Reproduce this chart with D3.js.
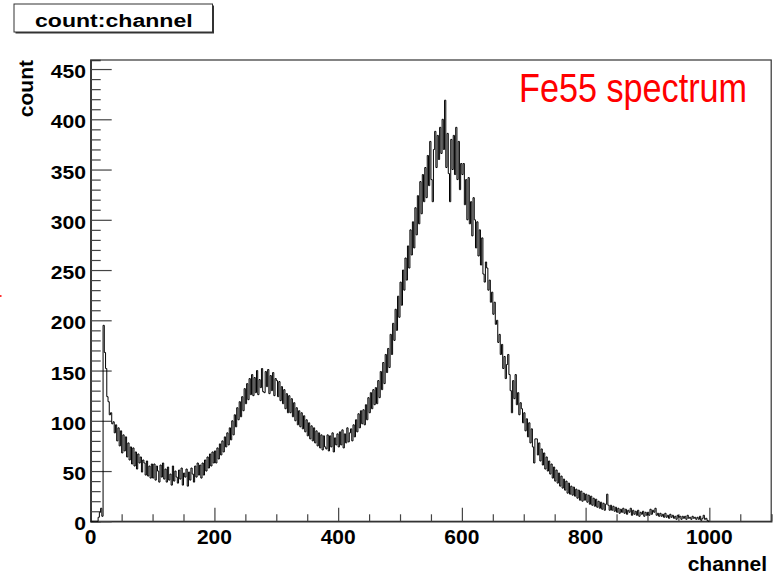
<!DOCTYPE html>
<html>
<head>
<meta charset="utf-8">
<script src="https://cdn.jsdelivr.net/npm/d3@7"></script>
<style>
  body { margin: 0; background: #fff; }
  text { font-family: "Liberation Sans", Arial, Helvetica, sans-serif; }
</style>
</head>
<body>
<div id="chart"></div>
<script>
// histogram: 2-channel bins starting at channel 0
const binWidth = 2;
const counts = [
  0,0,0,0,0,0,4,9,13,5,
  195,168,152,124,119,106,108,97,99,88,
  96,80,93,75,90,68,86,70,84,64,
  78,61,74,57,73,55,69,52,67,58,
  64,49,61,58,46,60,45,55,43,57,
  43,57,41,55,50,39,56,44,58,42,
  52,39,54,41,47,36,55,40,50,44,
  38,51,42,53,36,48,44,52,35,49,
  41,53,47,39,55,44,58,46,56,43,
  58,46,61,50,64,53,67,55,69,58,
  70,58,73,62,77,66,80,69,84,74,
  88,76,93,81,100,86,106,94,113,101,
  119,104,124,110,132,117,137,121,142,126,
  146,125,143,128,150,126,141,133,152,129,
  128,149,134,151,127,145,130,148,125,142,
  140,124,139,120,134,117,131,112,127,108,
  125,108,122,104,118,100,113,96,110,94,
  108,92,105,89,101,85,98,82,95,80,
  93,78,90,75,88,73,86,71,85,74,
  72,86,70,85,74,88,69,83,76,87,
  74,89,76,91,73,87,78,93,79,88,
  92,80,96,84,101,89,107,93,110,97,
  111,96,116,101,123,108,128,112,131,116,
  133,117,140,123,149,131,158,137,166,148,
  172,153,186,166,197,180,211,190,224,203,
  238,215,250,230,262,240,274,252,290,265,
  298,272,312,285,324,296,338,306,345,318,
  352,322,364,334,378,340,318,370,388,352,
  384,360,392,366,400,370,419,352,386,346,
  318,380,350,384,345,392,340,378,330,356,
  345,356,315,340,300,342,296,318,284,322,
  300,272,298,264,290,255,282,246,238,258,
  252,230,240,218,228,206,218,196,200,178,
  186,166,176,152,164,142,156,166,146,130,
  108,140,122,146,116,128,106,118,112,98,
  108,90,102,84,98,78,92,74,58,82,
  82,66,78,60,72,56,68,52,64,50,
  60,47,57,43,54,40,51,38,48,35,
  45,33,42,31,40,28,38,27,35,26,
  34,25,32,23,31,21,30,20,28,21,
  27,19,26,17,25,16,23,15,22,14,
  20,13,19,12,18,11,17,27,16,11,
  16,11,15,10,14,9,13,8,12,9,
  13,8,12,7,11,9,13,6,11,7,
  10,6,11,5,9,7,10,5,9,6,
  9,6,12,7,11,9,13,6,8,5,
  8,5,7,4,8,4,6,3,7,4,
  6,3,5,2,6,4,5,2,5,3,
  5,2,6,3,4,2,5,3,4,2,
  4,2,5,1,3,6,2,3,1,0
];
const xTicks = [0, 200, 400, 600, 800, 1000];
const yTicks = [0, 50, 100, 150, 200, 250, 300, 350, 400, 450];
const titleText = "count:channel";
const xTitle = "channel";
const yTitle = "count";
const legendText = "Fe55 spectrum";

const width = 778;
const height = 574;
const frame = {left: 90.7, right: 771.2, top: 60, bottom: 521.3};

const svg = d3.select("#chart")
    .append("svg")
    .attr("width", width)
    .attr("height", height);

const x = d3.scaleLinear()
    .domain([0, 1100])
    .range([frame.left, frame.right]);

const y = d3.scaleLinear()
    .domain([0, 459])
    .range([frame.bottom, frame.top]);

// frame
svg.append("rect")
    .attr("x", frame.left)
    .attr("y", frame.top)
    .attr("width", frame.right - frame.left)
    .attr("height", frame.bottom - frame.top)
    .attr("fill", "none")
    .attr("stroke", "#333")
    .attr("stroke-width", 1.2);

// X axis: ticks point up into the frame
const xAxis = svg.append("g")
    .attr("transform", `translate(0,${frame.bottom})`)
    .call(d3.axisTop(x).tickValues(d3.range(0, 1101, 50)).tickSize(7).tickFormat(""));
xAxis.selectAll(".tick line")
    .attr("y2", d => xTicks.includes(d) ? -13.5 : -7);
xAxis.select(".domain").attr("stroke", "#333").attr("stroke-width", 1.5);
xAxis.selectAll("line").attr("stroke", "#444").attr("stroke-width", 1.2);

svg.append("g").selectAll("text")
    .data(xTicks)
    .enter()
    .append("text")
    .attr("x", d => x(d))
    .attr("y", 543.5)
    .attr("text-anchor", "middle")
    .style("font-size", "21px")
    .style("font-weight", "bold")
    .text(d => d);

// Y axis: ticks point right into the frame
const yAxis = svg.append("g")
    .attr("transform", `translate(${frame.left},0)`)
    .call(d3.axisRight(y).tickValues(d3.range(0, 451, 10)).tickSize(10).tickFormat(""));
yAxis.selectAll(".tick line")
    .attr("x2", d => d % 50 === 0 ? 21 : 10);
yAxis.select(".domain").attr("stroke", "#333").attr("stroke-width", 1.5);
yAxis.selectAll("line").attr("stroke", "#444").attr("stroke-width", 1.2);

svg.append("g").selectAll("text")
    .data(yTicks)
    .enter()
    .append("text")
    .attr("transform", d => `translate(86,${y(d) + 9}) scale(1.11,1)`)
    .attr("text-anchor", "end")
    .style("font-size", "19px")
    .style("font-weight", "bold")
    .text(d => d);

// axis titles
svg.append("text")
    .attr("x", 767)
    .attr("y", 571)
    .attr("text-anchor", "end")
    .style("font-size", "21px")
    .style("font-weight", "bold")
    .text(xTitle);

svg.append("text")
    .attr("transform", "translate(33.3,60) rotate(-90)")
    .attr("text-anchor", "end")
    .style("font-size", "21px")
    .style("font-weight", "bold")
    .text(yTitle);

// histogram drawn as a step line
const points = counts.map((c, i) => [i * binWidth, c]);
points.push([counts.length * binWidth, 0]);

const line = d3.line()
    .x(d => x(d[0]))
    .y(d => y(d[1]))
    .curve(d3.curveStepAfter);

svg.append("path")
    .datum(points)
    .attr("d", line)
    .attr("fill", "none")
    .attr("stroke", "#000")
    .attr("stroke-width", 1);

// title box with shadow
svg.append("rect")
    .attr("x", 15.5)
    .attr("y", 5.5)
    .attr("width", 198.5)
    .attr("height", 28)
    .attr("fill", "#333");
svg.append("rect")
    .attr("x", 14)
    .attr("y", 4)
    .attr("width", 198.5)
    .attr("height", 28)
    .attr("fill", "#fff")
    .attr("stroke", "#333")
    .attr("stroke-width", 1);
svg.append("text")
    .attr("transform", "translate(35,26.5) scale(1.215,1)")
    .style("font-size", "19px")
    .style("font-weight", "bold")
    .text(titleText);

// red label
svg.append("text")
    .attr("transform", "translate(519,101.5) scale(0.834,1)")
    .attr("fill", "#ff0000")
    .style("font-size", "41px")
    .text(legendText);

// small red mark at the left edge
svg.append("rect")
    .attr("x", 0)
    .attr("y", 295)
    .attr("width", 1.5)
    .attr("height", 2)
    .attr("fill", "#f33");
</script>
</body>
</html>
